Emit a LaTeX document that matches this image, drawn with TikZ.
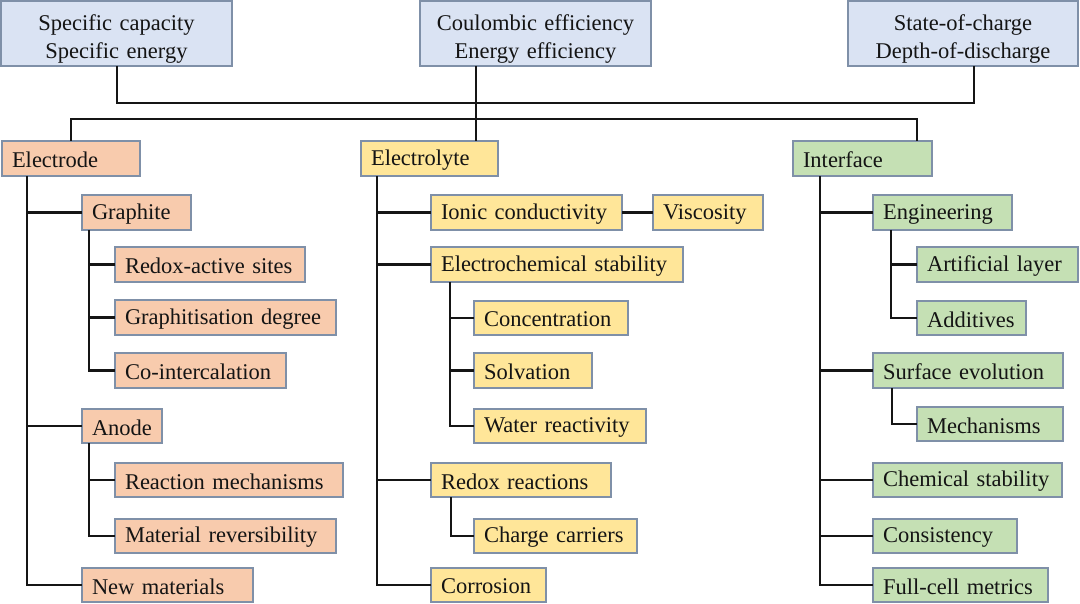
\documentclass[tikz,border=0pt]{standalone}
\usepackage{fontspec}
\setmainfont{Liberation Serif}
\definecolor{bluefill}{HTML}{DAE3F3}
\definecolor{orangefill}{HTML}{F8CBAD}
\definecolor{yellowfill}{HTML}{FFE699}
\definecolor{greenfill}{HTML}{C5E0B4}
\definecolor{boxline}{HTML}{7F90A8}
\definecolor{conn}{HTML}{151515}
\tikzset{
  box/.style={draw=boxline, line width=1.5pt, rectangle, inner xsep=0pt, inner ysep=0pt, outer sep=0pt,
    font=\fontsize{22.5}{28}\selectfont, text=black!92},
  topbox/.style={box, fill=bluefill, align=center},
  ebox/.style={box, fill=orangefill, align=left},
  ybox/.style={box, fill=yellowfill, align=left},
  gbox/.style={box, fill=greenfill, align=left},
  link/.style={draw=conn, line width=2.2pt},
}
% centered two-line box (top row)
\newcommand\bx[8]{%
  \pgfmathsetmacro\bxw{#4-#2}%
  \pgfmathsetmacro\bxh{#5-#3}%
  \pgfmathsetmacro\bxy{(#3+#5)/2}%
  \node[#6, anchor=west, minimum width=\bxw pt, minimum height=\bxh pt, text width=\bxw pt] (#1) at (#2,\bxy)
    {\raisebox{-11pt}[0pt][0pt]{\begin{tabular}{@{}c@{}}#7\\#8\end{tabular}}};}
% left-aligned box
\newcommand\lf[7]{%
  \pgfmathsetmacro\bxw{#4-#2}%
  \pgfmathsetmacro\bxh{#5-#3}%
  \pgfmathsetmacro\bxy{(#3+#5)/2}%
  \node[#6, anchor=west, minimum width=\bxw pt, minimum height=\bxh pt, text width=\bxw pt] (#1) at (#2,\bxy)
    {\hspace*{10pt}\raisebox{-1.5pt}[\height][\depth]{#7}};}
\begin{document}
\begin{tikzpicture}[x=1pt,y=-1pt]
\useasboundingbox (0,0) rectangle (1080,604);
% top boxes
\bx{spec}{1}{1}{232}{66}{topbox}{Specific capacity}{Specific energy}
\bx{coul}{420}{1}{651}{66}{topbox}{Coulombic efficiency}{Energy efficiency}
\bx{soc}{848}{1}{1078}{66}{topbox}{State-of-charge}{Depth-of-discharge}
% level 1
\lf{electrode}{2}{141}{140}{176}{ebox}{Electrode}
\lf{electrolyte}{361}{141}{498}{176}{ybox}{Electrolyte}
\lf{interface}{793}{141}{932}{176}{gbox}{Interface}
% electrode
\lf{graphite}{82}{195}{191}{230}{ebox}{Graphite}
\lf{redoxsites}{115}{247}{305}{282}{ebox}{Redox-active sites}
\lf{graphdeg}{115}{300}{336}{335}{ebox}{Graphitisation degree}
\lf{cointer}{115}{353}{286}{388}{ebox}{Co-intercalation}
\lf{anode}{82}{409}{162}{443}{ebox}{Anode}
\lf{reactmech}{115}{463}{343}{497}{ebox}{Reaction mechanisms}
\lf{matrev}{115}{519}{336}{553}{ebox}{Material reversibility}
\lf{newmat}{82}{568}{253}{602}{ebox}{New materials}
% electrolyte
\lf{ionic}{431}{195}{622}{230}{ybox}{Ionic conductivity}
\lf{visc}{653}{195}{763}{230}{ybox}{Viscosity}
\lf{echem}{431}{247}{683}{282}{ybox}{Electrochemical stability}
\lf{conc}{474}{301}{628}{335}{ybox}{Concentration}
\lf{solv}{474}{353}{592}{388}{ybox}{Solvation}
\lf{water}{474}{409}{646}{443}{ybox}{Water reactivity}
\lf{redox}{431}{463}{611}{497}{ybox}{Redox reactions}
\lf{charge}{474}{519}{637}{553}{ybox}{Charge carriers}
\lf{corr}{431}{568}{546}{602}{ybox}{Corrosion}
% interface
\lf{eng}{873}{195}{1012}{230}{gbox}{Engineering}
\lf{artif}{917}{247}{1078}{282}{gbox}{Artificial layer}
\lf{addit}{917}{301}{1026}{335}{gbox}{Additives}
\lf{surf}{873}{353}{1063}{388}{gbox}{Surface evolution}
\lf{mech}{917}{407}{1063}{441}{gbox}{Mechanisms}
\lf{chemstab}{873}{463}{1062}{497}{gbox}{Chemical stability}
\lf{consis}{873}{519}{1017}{553}{gbox}{Consistency}
\lf{fullcell}{873}{568}{1048}{602}{gbox}{Full-cell metrics}
% junction coordinates
\coordinate (topA) at (117,103);
\coordinate (topB) at (974,103);
\coordinate (midA) at (71,119);
\coordinate (midB) at (917,119);
\coordinate (cx) at (476,0);
\coordinate (tE) at (27,0);
\coordinate (tG) at (89,0);
\coordinate (tL) at (377,0);
\coordinate (tS) at (450,0);
\coordinate (tR) at (451,0);
\coordinate (tI) at (820,0);
\coordinate (tN) at (891,0);
\coordinate (tV) at (892,0);
% top connectors
\draw[link] (spec.south -| topA) -- (topA) -- (topB) -- (soc.south -| topB);
\draw[link] (coul.south -| cx) -- (electrolyte.north -| cx);
\draw[link] (electrode.north -| midA) -- (midA) -- (midB) -- (interface.north -| midB);
% electrode tree
\draw[link] (electrode.south -| tE) |- (newmat.west);
\draw[link] (graphite.west) -- (graphite.west -| tE);
\draw[link] (anode.west) -- (anode.west -| tE);
\draw[link] (graphite.south -| tG) |- (cointer.west);
\draw[link] (redoxsites.west) -- (redoxsites.west -| tG);
\draw[link] (graphdeg.west) -- (graphdeg.west -| tG);
\draw[link] (anode.south -| tG) |- (matrev.west);
\draw[link] (reactmech.west) -- (reactmech.west -| tG);
% electrolyte tree
\draw[link] (electrolyte.south -| tL) |- (corr.west);
\draw[link] (ionic.west) -- (ionic.west -| tL);
\draw[link] (echem.west) -- (echem.west -| tL);
\draw[link] (redox.west) -- (redox.west -| tL);
\draw[link] (ionic.east) -- (visc.west);
\draw[link] (echem.south -| tS) |- (water.west);
\draw[link] (conc.west) -- (conc.west -| tS);
\draw[link] (solv.west) -- (solv.west -| tS);
\draw[link] (redox.south -| tR) |- (charge.west);
% interface tree
\draw[link] (interface.south -| tI) |- (fullcell.west);
\draw[link] (eng.west) -- (eng.west -| tI);
\draw[link] (surf.west) -- (surf.west -| tI);
\draw[link] (chemstab.west) -- (chemstab.west -| tI);
\draw[link] (consis.west) -- (consis.west -| tI);
\draw[link] (eng.south -| tN) |- (addit.west);
\draw[link] (artif.west) -- (artif.west -| tN);
\draw[link] (surf.south -| tV) |- (mech.west);
\end{tikzpicture}
\end{document}
